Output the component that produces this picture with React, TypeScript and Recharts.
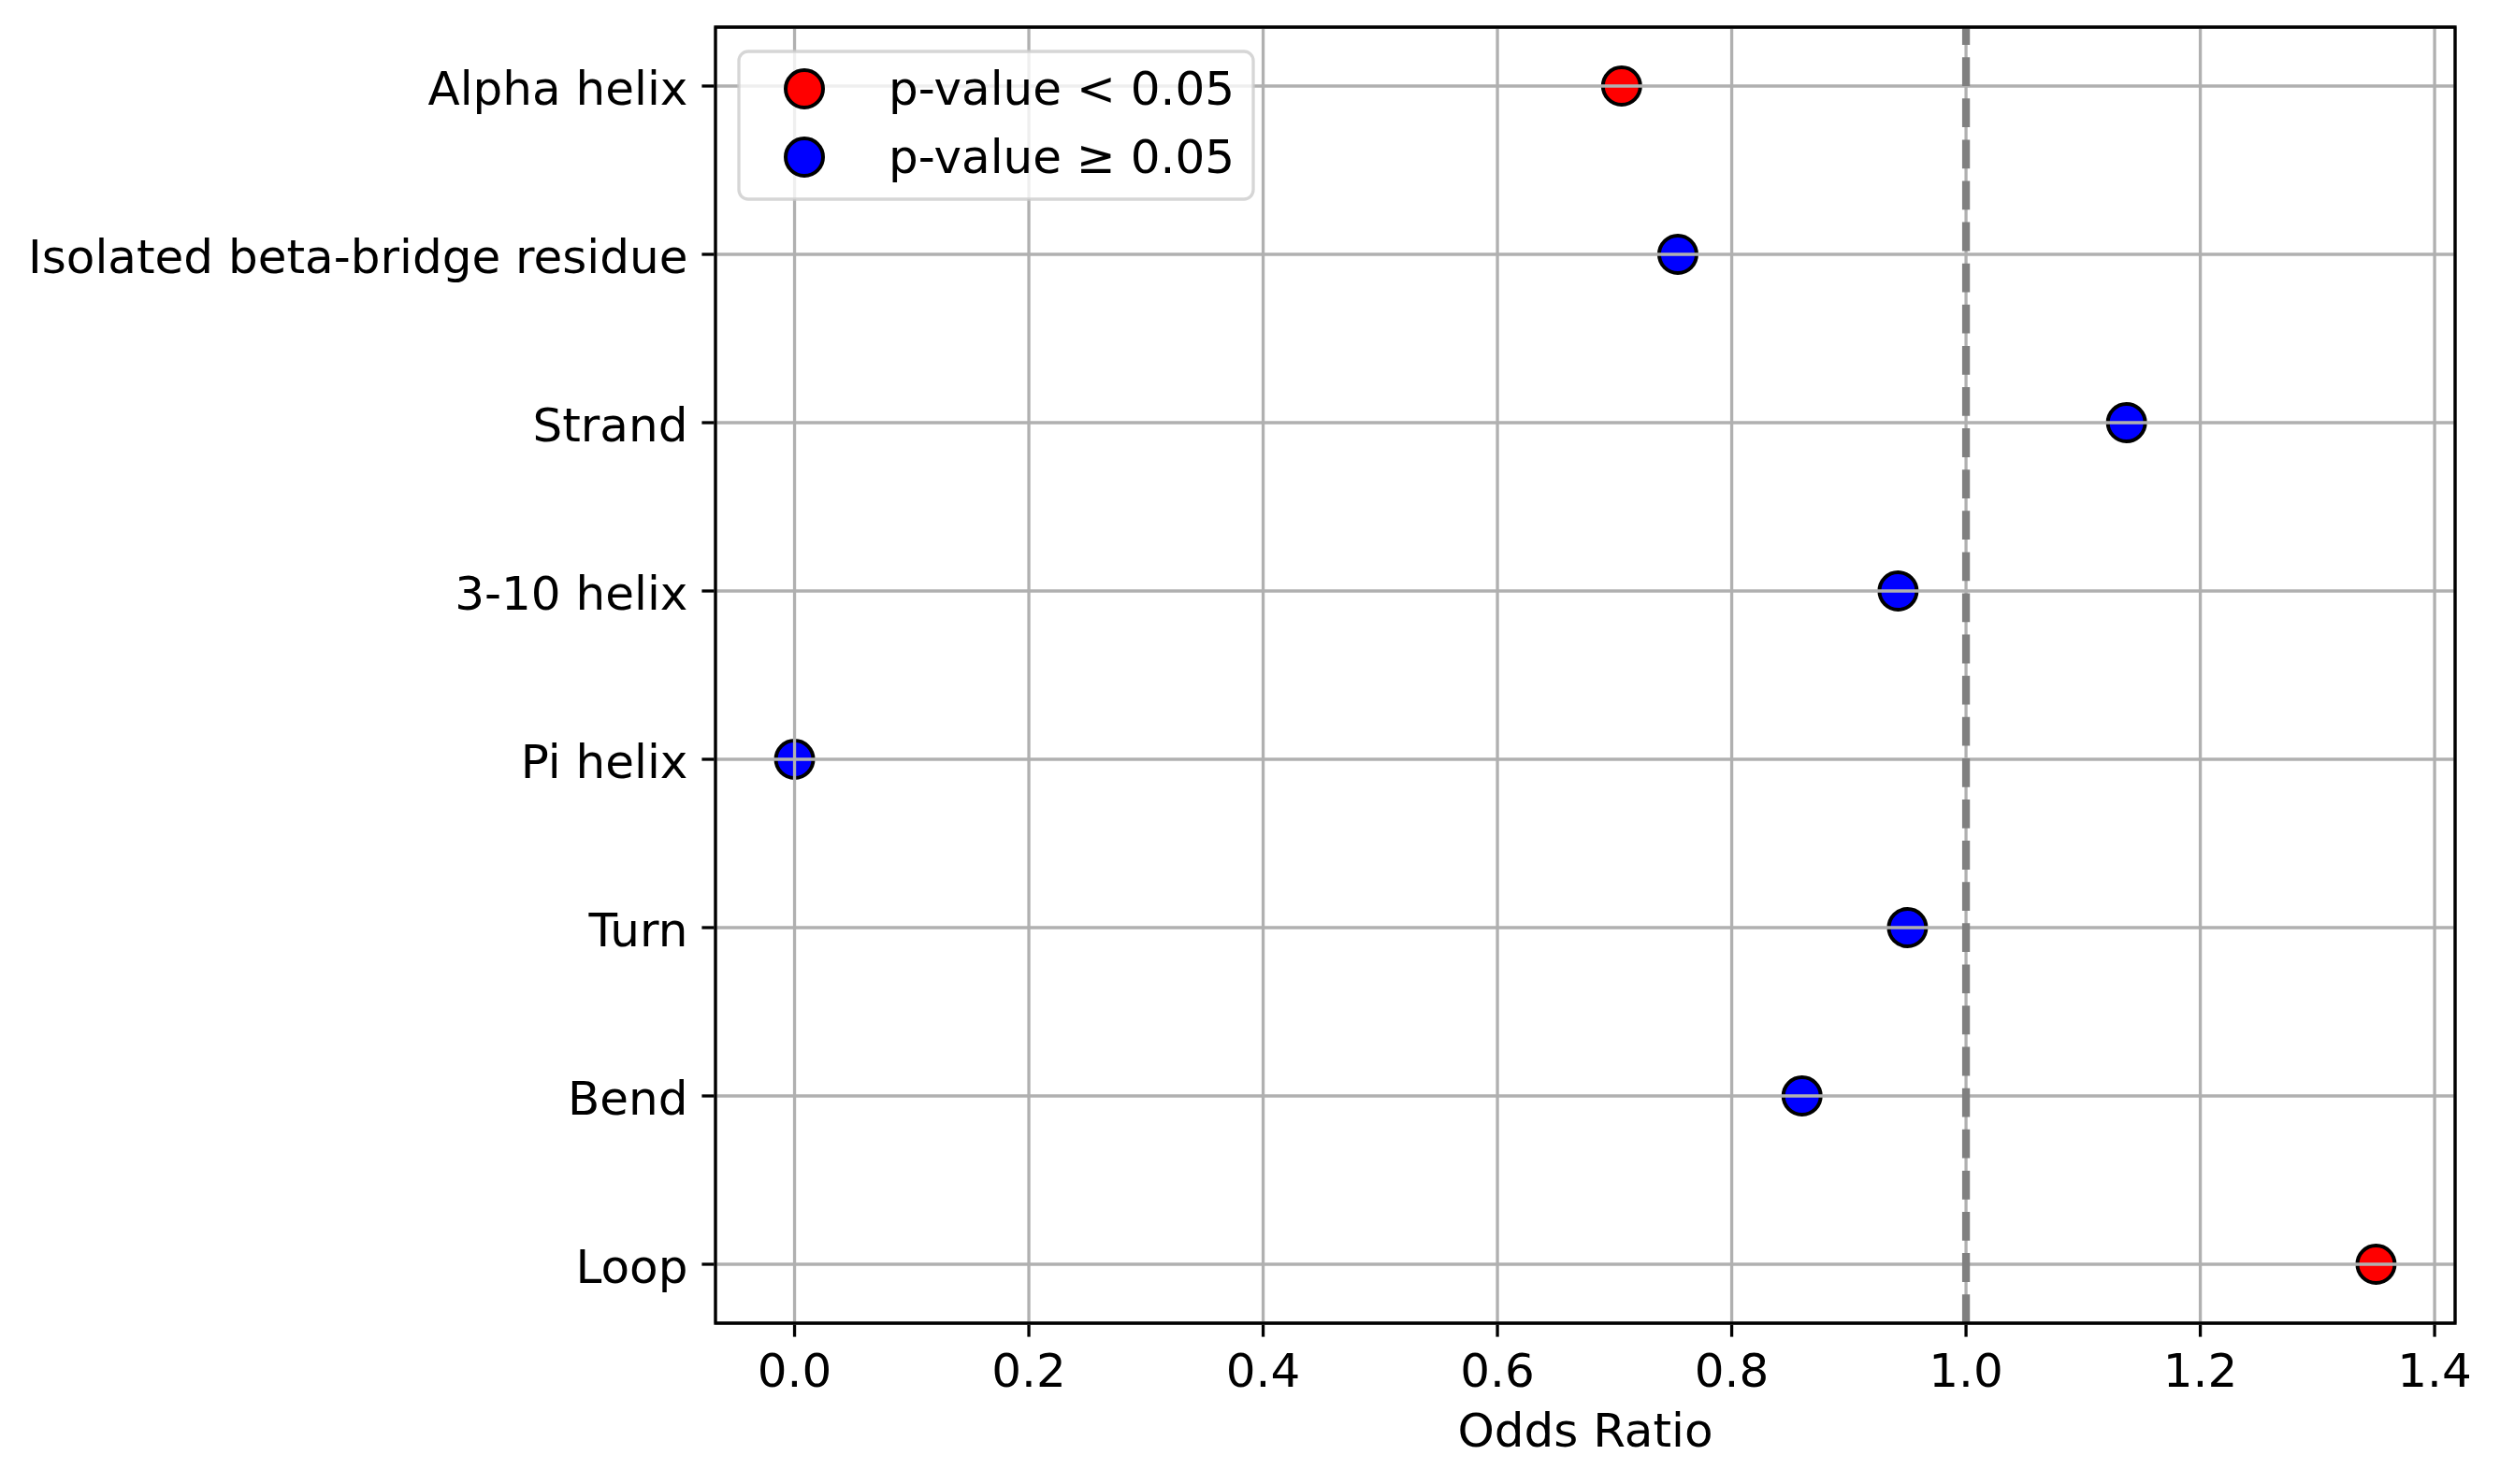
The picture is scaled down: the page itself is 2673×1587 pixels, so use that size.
import React from 'react';
import {
  ScatterChart,
  Scatter,
  XAxis,
  YAxis,
  CartesianGrid,
  ReferenceLine,
  ReferenceArea,
  Legend,
} from 'recharts';

const categories = [
  'Alpha helix',
  'Isolated beta-bridge residue',
  'Strand',
  '3-10 helix',
  'Pi helix',
  'Turn',
  'Bend',
  'Loop',
];
const oddsRatios = [0.706, 0.754, 1.137, 0.942, 0.0, 0.95, 0.86, 1.35];
const significant = [true, false, false, false, false, false, false, true];

const xTicks = [0, 0.2, 0.4, 0.6, 0.8, 1.0, 1.2, 1.4];
const xTickLabels = ['0.0', '0.2', '0.4', '0.6', '0.8', '1.0', '1.2', '1.4'];
const yTicks = [0, 1, 2, 3, 4, 5, 6, 7];
const legendLabels = ['p-value < 0.05', 'p-value \u2265 0.05'];
const seriesColors = ['#ff0000', '#0000ff'];
const xLabel = 'Odds Ratio';
const referenceValue = 1.0;

const X_DOMAIN: [number, number] = [-0.0675, 1.4175];
const Y_DOMAIN: [number, number] = [-0.35, 7.35];

const sigData = categories
  .map((c, i) => ({ x: oddsRatios[i], y: i, name: c, sig: significant[i] }))
  .filter((d) => d.sig);
const nonSigData = categories
  .map((c, i) => ({ x: oddsRatios[i], y: i, name: c, sig: significant[i] }))
  .filter((d) => !d.sig);

const FONT = 'DejaVu Sans';
const FS = 50;
const GRID = '#b0b0b0';
const LW = 3.3;

const Marker = (props: any) => {
  const { cx, cy, fill } = props;
  if (cx == null || cy == null) return null;
  return <circle cx={cx} cy={cy} r={20} fill={fill} stroke="#000" strokeWidth={4} />;
};

const XTick = (props: any) => {
  const { x, y, payload } = props;
  const idx = xTicks.indexOf(payload.value);
  const label = idx >= 0 ? xTickLabels[idx] : String(payload.value);
  return (
    <text x={x} y={y} dy={53.5} textAnchor="middle" fontFamily={FONT} fontSize={FS} fill="#000">
      {label}
    </text>
  );
};

const YTick = (props: any) => {
  const { x, y, payload } = props;
  return (
    <text x={x} y={y} dy={20} textAnchor="end" fontFamily={FONT} fontSize={FS} fill="#000">
      {categories[payload.value]}
    </text>
  );
};

const XLabel = (props: any) => {
  const vb = props.viewBox || { x: 765, y: 1415, width: 1860, height: 150 };
  return (
    <text
      x={vb.x + vb.width / 2}
      y={vb.y + 132}
      textAnchor="middle"
      fontFamily={FONT}
      fontSize={FS}
      fill="#000"
    >
      {xLabel}
    </text>
  );
};

const LegendBox = () => (
  <svg width={554} height={162} style={{ display: 'block', overflow: 'visible' }}>
    <rect
      x={2}
      y={2}
      width={550}
      height={158}
      rx={10}
      ry={10}
      fill="rgba(255,255,255,0.8)"
      stroke="rgba(204,204,204,0.8)"
      strokeWidth={LW}
    />
    {legendLabels.map((lab, i) => (
      <g key={lab}>
        <circle cx={72} cy={42 + i * 73} r={20} fill={seriesColors[i]} stroke="#000" strokeWidth={4} />
        <text x={162} y={59 + i * 73} fontFamily={FONT} fontSize={FS} fill="#000">
          {lab}
        </text>
      </g>
    ))}
  </svg>
);

export default function App() {
  return (
    <div
      style={{
        position: 'absolute',
        left: 0,
        top: 0,
        width: 2673,
        height: 1587,
        background: '#ffffff',
      }}
    >
      <ScatterChart
        width={2673}
        height={1587}
        margin={{ top: 29, right: 48, bottom: 22, left: 65 }}
      >
        <XAxis
          type="number"
          dataKey="x"
          domain={X_DOMAIN}
          ticks={xTicks}
          interval={0}
          allowDataOverflow
          axisLine={false}
          tickLine={{ stroke: '#000', strokeWidth: LW }}
          tickSize={14.6}
          tickMargin={0}
          height={150}
          tick={<XTick />}
          label={<XLabel />}
        />
        <YAxis
          type="number"
          dataKey="y"
          domain={Y_DOMAIN}
          ticks={yTicks}
          interval={0}
          reversed
          allowDataOverflow
          axisLine={false}
          tickLine={{ stroke: '#000', strokeWidth: LW }}
          tickSize={14.6}
          tickMargin={15}
          width={700}
          tick={<YTick />}
        />
        <Scatter
          name={legendLabels[0]}
          data={sigData}
          fill={seriesColors[0]}
          shape={<Marker />}
          isAnimationActive={false}
          zIndex={600}
        />
        <Scatter
          name={legendLabels[1]}
          data={nonSigData}
          fill={seriesColors[1]}
          shape={<Marker />}
          isAnimationActive={false}
          zIndex={600}
        />
        <CartesianGrid
          stroke={GRID}
          strokeWidth={LW}
          fill="none"
          zIndex={700}
        />
        <ReferenceLine
          segment={[
            { x: referenceValue, y: Y_DOMAIN[1] },
            { x: referenceValue, y: Y_DOMAIN[0] },
          ]}
          stroke="#808080"
          strokeWidth={8.3}
          strokeDasharray="30.8 13.3"
          ifOverflow="visible"
          zIndex={800}
        />
        <ReferenceArea
          x1={X_DOMAIN[0]}
          x2={X_DOMAIN[1]}
          y1={Y_DOMAIN[0]}
          y2={Y_DOMAIN[1]}
          fill="none"
          fillOpacity={0}
          stroke="#000"
          strokeWidth={LW}
          ifOverflow="visible"
          zIndex={900}
        />
        <Legend
          layout="horizontal"
          verticalAlign="middle"
          align="center"
          content={<LegendBox />}
          wrapperStyle={{ position: 'absolute', left: 788, top: 53, width: 554, height: 162 }}
        />
      </ScatterChart>
    </div>
  );
}
